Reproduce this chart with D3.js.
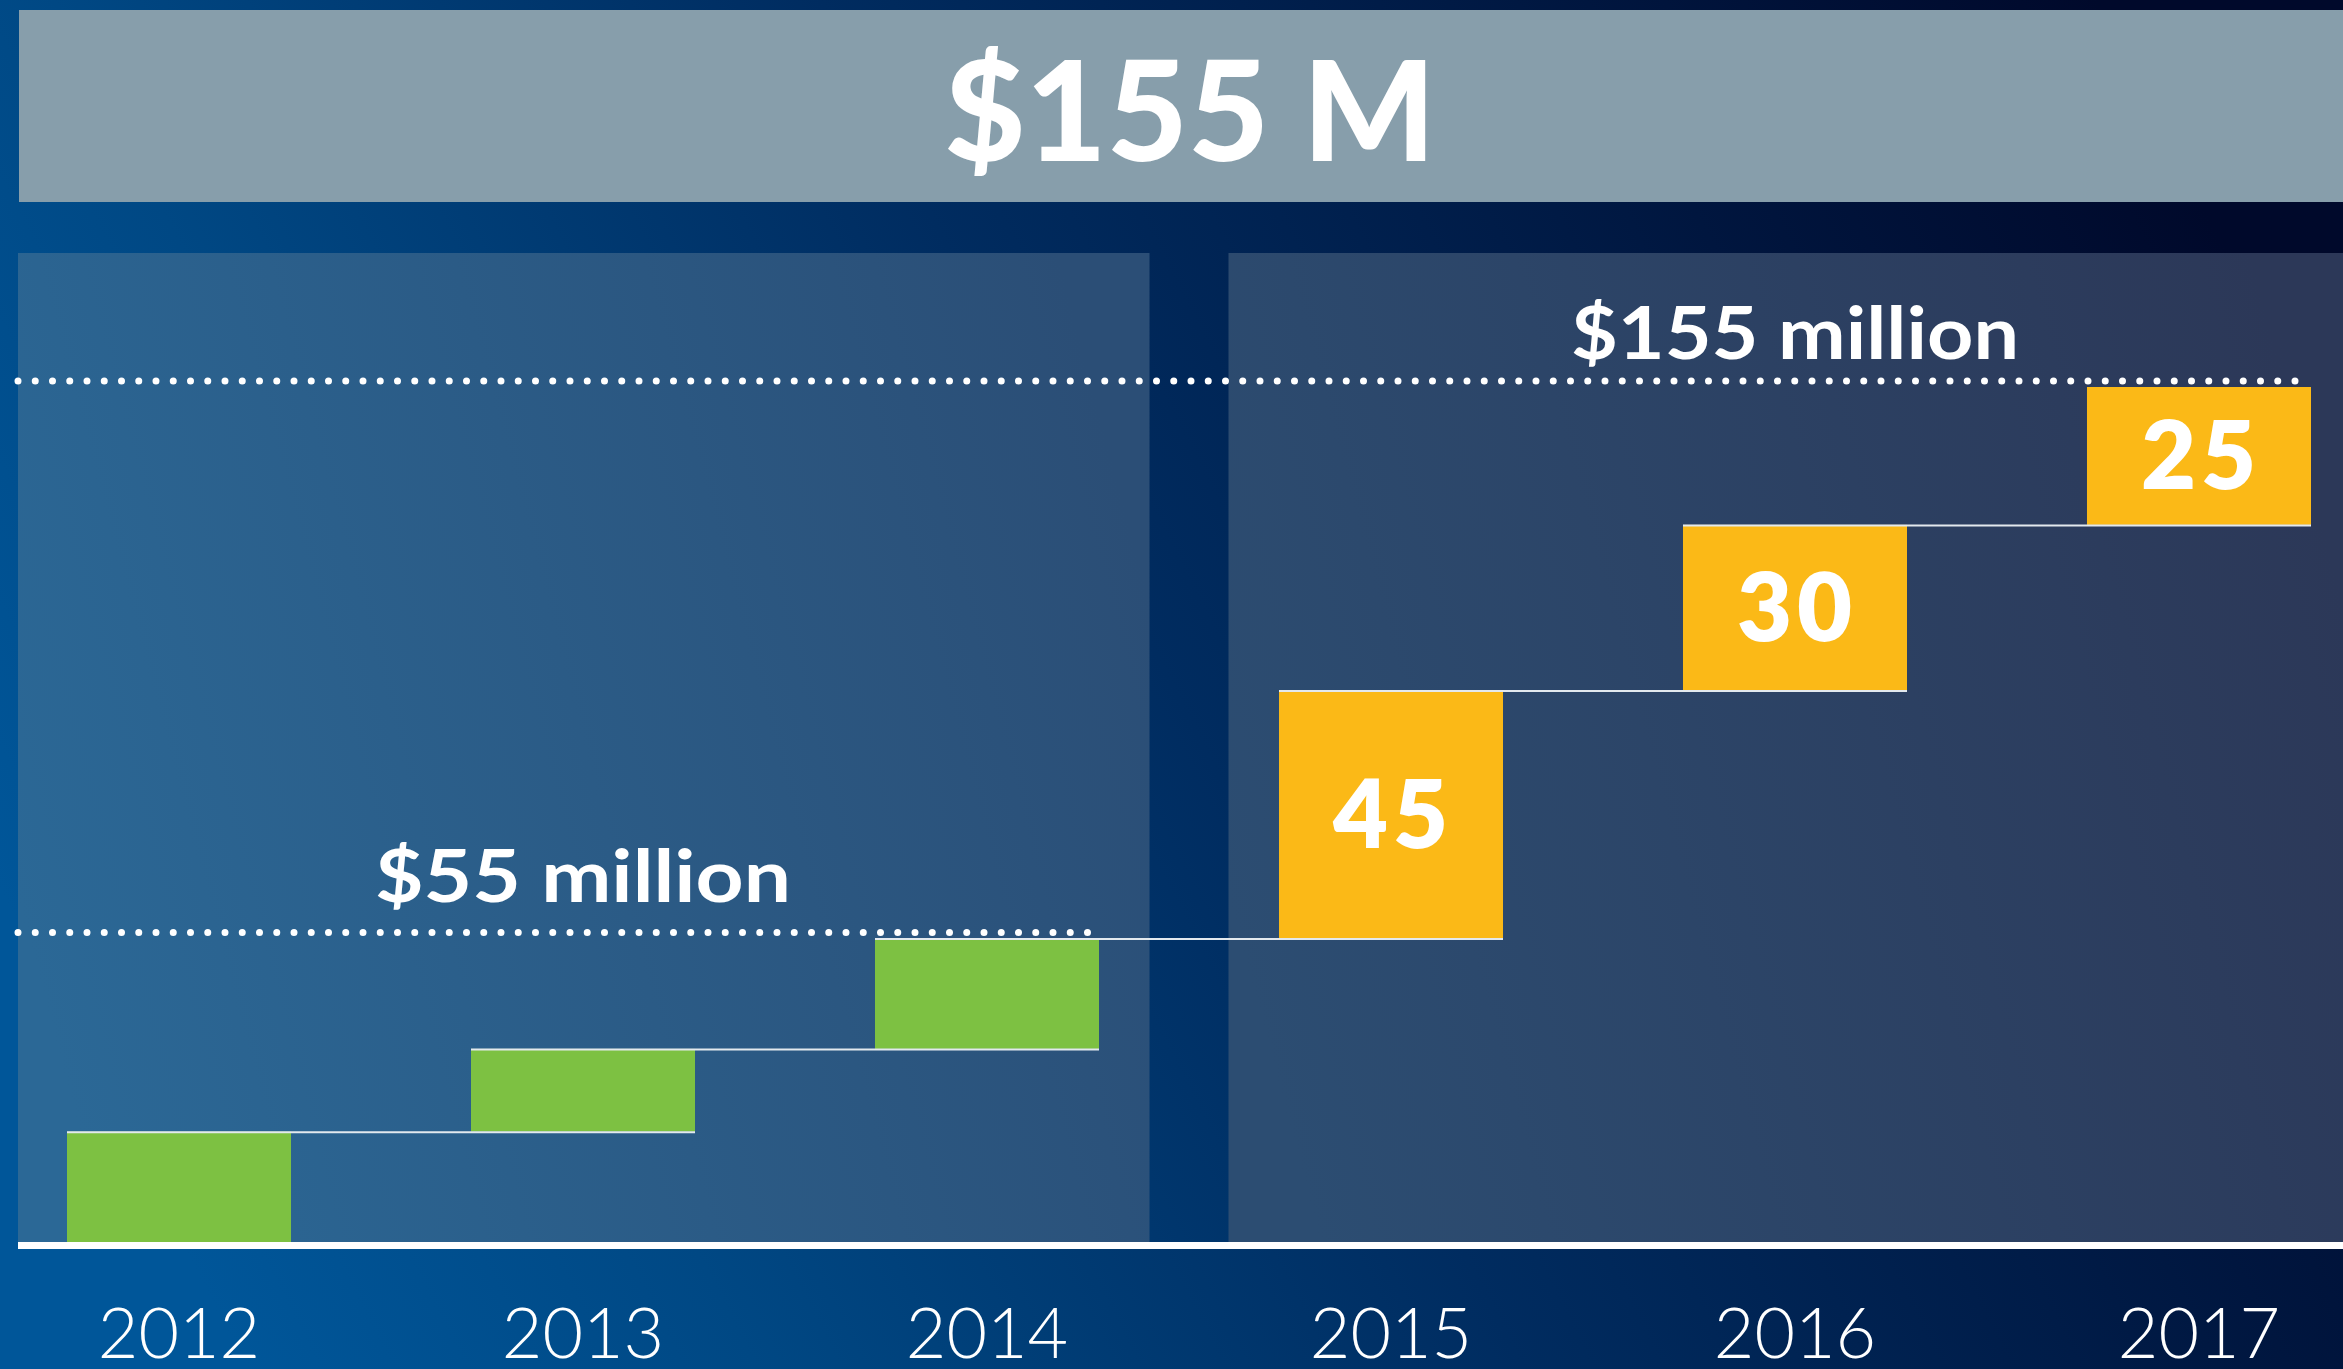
<!DOCTYPE html>
<html>
<head>
<meta charset="utf-8">
<script src="https://cdn.jsdelivr.net/npm/d3@7"></script>
<style>
  html, body { margin: 0; padding: 0; background: #002c60; }
  svg { display: block; }
</style>
</head>
<body>
<svg id="chart" width="2343" height="1369"></svg>
<script>
// ---------- data ----------
const years = ["2012", "2013", "2014", "2015", "2016", "2017"];
const increments = [20, 15, 20, 45, 30, 25];          // $ million added each year
const showValue = [false, false, false, true, true, true];
const milestoneValues = [55, 155];
const milestoneLabels = ["$55 million", "$155 million"];
const milestoneLabelYear = ["2013", "2016"];
const milestoneEndYear = ["2014", "2017"];
const titleText = "$155 M";

// ---------- setup ----------
const W = 2343, H = 1369;
const svg = d3.select("#chart");
const defs = svg.append("defs");

const cum = [];
increments.reduce((acc, v, i) => (cum[i] = acc + v), 0);
const starts = cum.map((c, i) => c - increments[i]);

const x = d3.scaleBand().domain(years).range([67, 2311]).paddingInner(0.4455).paddingOuter(0);
const y = d3.scaleLinear().domain([0, 155]).range([1242, 387]);
const bw = x.bandwidth();

// background gradient
const bg = defs.append("linearGradient").attr("id", "bg")
  .attr("x1", 0).attr("y1", 0.65).attr("x2", 1).attr("y2", 0.35);
[[0, "#005699"], [0.2, "#004884"], [0.5, "#002C60"], [0.8, "#00163F"], [1, "#00092B"]]
  .forEach(([o, c]) => bg.append("stop").attr("offset", o).attr("stop-color", c));
svg.append("rect").attr("width", W).attr("height", H).attr("fill", "url(#bg)");

// title band
svg.append("rect").attr("x", 19).attr("y", 10).attr("width", W - 19).attr("height", 192)
  .attr("fill", "#879EAB");
svg.append("text").attr("x", 1190).attr("y", 161)
  .attr("text-anchor", "middle")
  .attr("font-family", "Lato, 'Open Sans', sans-serif").attr("font-weight", 900)
  .attr("font-size", 140).attr("fill", "#ffffff").text(titleText);

// panels
const gapCenter = (x("2014") + bw + x("2015")) / 2;
const gapHalf = 39.5;
const panelTop = 253, panelBottom = y(0);

const lg = defs.append("linearGradient").attr("id", "pl").attr("gradientUnits", "userSpaceOnUse")
  .attr("x1", 18).attr("y1", 900).attr("x2", gapCenter - gapHalf).attr("y2", 600);
lg.append("stop").attr("offset", 0).attr("stop-color", "#2B6896");
lg.append("stop").attr("offset", 1).attr("stop-color", "#2B4E76");
const rg = defs.append("linearGradient").attr("id", "pr").attr("gradientUnits", "userSpaceOnUse")
  .attr("x1", gapCenter + gapHalf).attr("y1", 900).attr("x2", W).attr("y2", 600);
rg.append("stop").attr("offset", 0).attr("stop-color", "#2C4D72");
rg.append("stop").attr("offset", 1).attr("stop-color", "#2C3858");

svg.append("rect").attr("x", 18).attr("y", panelTop)
  .attr("width", gapCenter - gapHalf - 18).attr("height", panelBottom - panelTop)
  .attr("fill", "url(#pl)");
svg.append("rect").attr("x", gapCenter + gapHalf).attr("y", panelTop)
  .attr("width", W - (gapCenter + gapHalf)).attr("height", panelBottom - panelTop)
  .attr("fill", "url(#pr)");

// bars
const colorFor = i => (i < 3 ? "#7DC142" : "#FBB917");
svg.append("g").selectAll("rect").data(years).join("rect")
  .attr("x", d => x(d))
  .attr("y", (d, i) => y(cum[i]))
  .attr("width", bw)
  .attr("height", (d, i) => y(starts[i]) - y(cum[i]))
  .attr("fill", (d, i) => colorFor(i));

// connector lines
const conn = svg.append("g").attr("stroke", "#E3E9EE").attr("stroke-width", 2);
years.slice(0, -1).forEach((yr, i) => {
  conn.append("line")
    .attr("x1", x(yr)).attr("x2", x(years[i + 1]) + bw)
    .attr("y1", y(cum[i]) + 0.5).attr("y2", y(cum[i]) + 0.5);
});

// baseline
svg.append("rect").attr("x", 18).attr("y", y(0)).attr("width", W - 18).attr("height", 7)
  .attr("fill", "#ffffff");

// bar value labels
svg.append("g").selectAll("text").data(years.filter((d, i) => showValue[i])).join("text")
  .attr("x", d => x(d) + bw / 2 + 2)
  .attr("y", d => {
    const i = years.indexOf(d);
    return (y(cum[i]) + y(starts[i])) / 2 + 33;
  })
  .attr("text-anchor", "middle")
  .attr("font-family", "Lato, 'Open Sans', sans-serif").attr("font-weight", 800)
  .attr("font-size", 95).attr("letter-spacing", 5).attr("fill", "#ffffff")
  .text(d => increments[years.indexOf(d)]);

// milestone dotted lines and labels
const labelGap = [31, 22];
const labelLen = [416, 448];
milestoneValues.forEach((v, k) => {
  const ly = y(v) - 6;
  svg.append("line")
    .attr("x1", 18).attr("x2", x(milestoneEndYear[k]) + bw)
    .attr("y1", ly).attr("y2", ly)
    .attr("stroke", "#ffffff").attr("stroke-width", 7)
    .attr("stroke-linecap", "round").attr("stroke-dasharray", "0 17.25");
  svg.append("text")
    .attr("x", x(milestoneLabelYear[k]) + bw / 2)
    .attr("y", ly - labelGap[k])
    .attr("text-anchor", "middle")
    .attr("textLength", labelLen[k]).attr("lengthAdjust", "spacingAndGlyphs")
    .attr("font-family", "Lato, 'Open Sans', sans-serif").attr("font-weight", 700)
    .attr("font-size", 72).attr("fill", "#ffffff")
    .text(milestoneLabels[k]);
});

// year axis
const axis = d3.axisBottom(x).tickSize(0).tickPadding(0);
const ax = svg.append("g").attr("transform", "translate(0,1358)").call(axis);
ax.select(".domain").remove();
ax.selectAll("text")
  .attr("dy", 0).attr("y", 0)
  .attr("font-family", "Lato, 'Open Sans', sans-serif").attr("font-weight", 300)
  .attr("font-size", 70).attr("fill", "#ffffff");
</script>
</body>
</html>
